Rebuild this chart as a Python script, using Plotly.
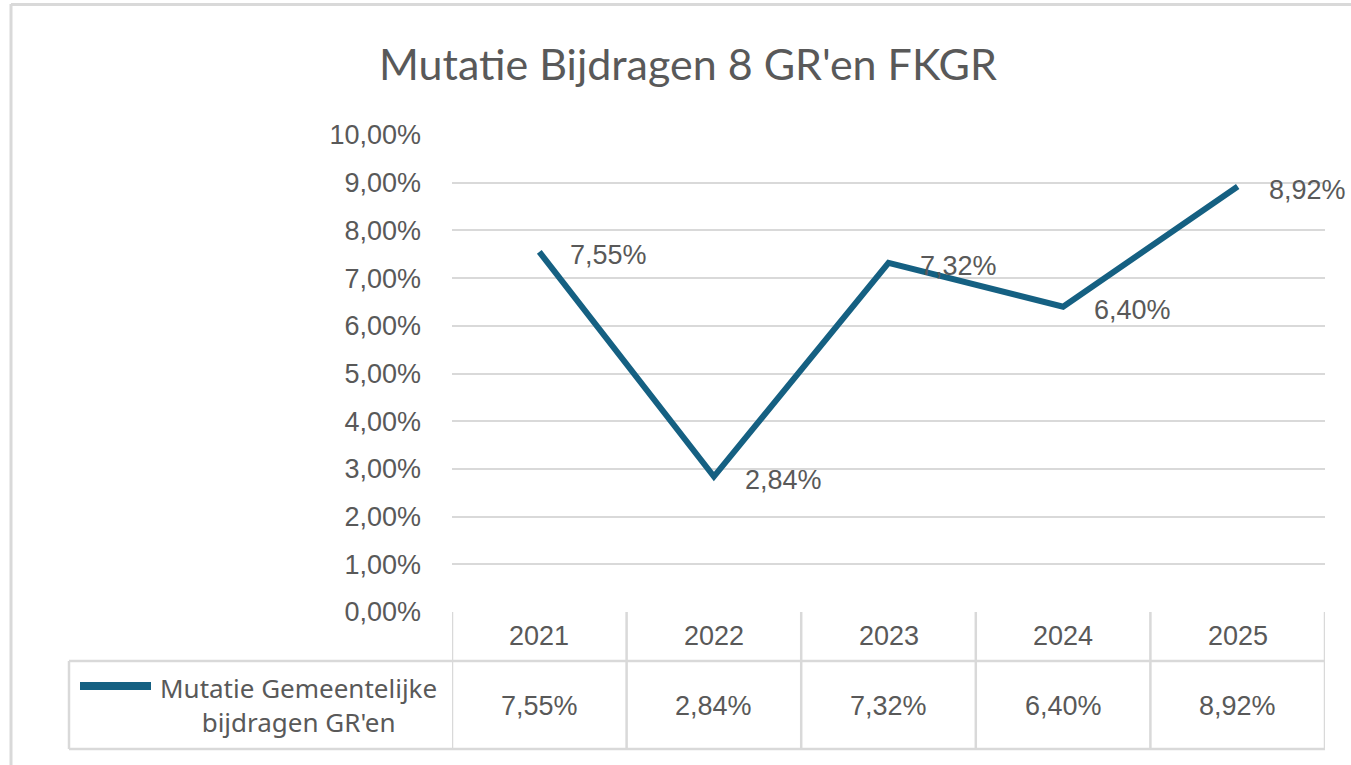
import plotly.graph_objects as go

# ---- data ----
years = ["2021", "2022", "2023", "2024", "2025"]
values = [0.0755, 0.0284, 0.0732, 0.0640, 0.0892]
value_labels = ["7,55%", "2,84%", "7,32%", "6,40%", "8,92%"]
series_name = "Mutatie Gemeentelijke<br>bijdragen GR'en"
title_text = "Mutatie Bijdragen 8 GR'en FKGR"

W, H = 1351, 765
LINE = "#156082"
TXT = "#595959"
GRID = "#d9d9d9"
TICKFONT = "Liberation Sans, Arial, sans-serif"
FS = 27


def px(x):
    return x / W


def py(y):
    return 1 - y / H


x_idx = list(range(len(years)))

fig = go.Figure()
fig.add_trace(go.Scatter(
    x=x_idx, y=values, mode="lines",
    line=dict(color=LINE, width=6),
    hoverinfo="skip", showlegend=False,
))

annotations = []
# data labels
for i, (v, t) in enumerate(zip(values, value_labels)):
    annotations.append(dict(x=i, y=v, xref="x", yref="y", text=t, showarrow=False,
                            xanchor="left", yanchor="middle", xshift=29, yshift=-3,
                            font=dict(family=TICKFONT, size=FS, color=TXT)))
# table header & values
for i, (yr, t) in enumerate(zip(years, value_labels)):
    annotations.append(dict(x=i, y=py(636), xref="x", yref="paper", text=yr, showarrow=False,
                            xanchor="center", yanchor="middle",
                            font=dict(family=TICKFONT, size=FS, color=TXT)))
    annotations.append(dict(x=i, y=py(706), xref="x", yref="paper", text=t, showarrow=False,
                            xanchor="center", yanchor="middle",
                            font=dict(family=TICKFONT, size=FS, color=TXT)))
# legend text
annotations.append(dict(x=px(298), y=py(705), xref="paper", yref="paper", text=series_name,
                        showarrow=False, xanchor="center", yanchor="middle", align="center",
                        font=dict(family="Noto Sans, sans-serif", size=26, color=TXT)))
# title
annotations.append(dict(x=px(688), y=py(63), xref="paper", yref="paper", text=title_text,
                        showarrow=False, xanchor="center", yanchor="middle",
                        font=dict(family="Lato, sans-serif", size=43, color=TXT)))

shapes = []
bw = 2.5
# outer chart border (top & left visible)
shapes.append(dict(type="line", xref="paper", yref="paper", x0=px(11), x1=1, y0=py(4.5), y1=py(4.5),
                   line=dict(color=GRID, width=3)))
shapes.append(dict(type="line", xref="paper", yref="paper", x0=px(11), x1=px(11), y0=py(4), y1=0,
                   line=dict(color=GRID, width=3)))
# table vertical lines
for k in range(len(years) + 1):
    shapes.append(dict(type="line", xref="x", yref="paper", x0=k - 0.5, x1=k - 0.5,
                       y0=py(612), y1=py(749), line=dict(color=GRID, width=bw)))
# table horizontal lines
for yy in (661, 749):
    shapes.append(dict(type="line", xref="paper", yref="paper", x0=px(69), x1=px(1325),
                       y0=py(yy), y1=py(yy), line=dict(color=GRID, width=bw)))
shapes.append(dict(type="line", xref="paper", yref="paper", x0=px(69), x1=px(69),
                   y0=py(661), y1=py(749), line=dict(color=GRID, width=bw)))
# legend key
shapes.append(dict(type="line", xref="paper", yref="paper", x0=px(80), x1=px(151),
                   y0=py(686), y1=py(686), line=dict(color=LINE, width=8)))

fig.update_layout(
    width=W, height=H, autosize=False,
    margin=dict(l=0, r=0, t=0, b=0, autoexpand=False),
    paper_bgcolor="white", plot_bgcolor="white",
    separators=",.",
    showlegend=False,
    xaxis=dict(domain=[px(452), px(1325)], range=[-0.5, 4.5], showgrid=False, automargin=False,
               zeroline=False, showticklabels=False, ticks="", fixedrange=True),
    yaxis=dict(domain=[py(612), py(135)], range=[0, 0.10], dtick=0.01, tick0=0, automargin=False,
               tickformat=".2%", showgrid=True, gridcolor=GRID, gridwidth=2,
               zeroline=False, ticks="", ticklabelstandoff=30,
               tickfont=dict(family=TICKFONT, size=FS, color=TXT), fixedrange=True),
    annotations=annotations,
    shapes=shapes,
)

fig.write_html("out.html", config={"displayModeBar": False},
               post_script="document.body.style.margin='0';document.body.style.overflow='hidden';")
